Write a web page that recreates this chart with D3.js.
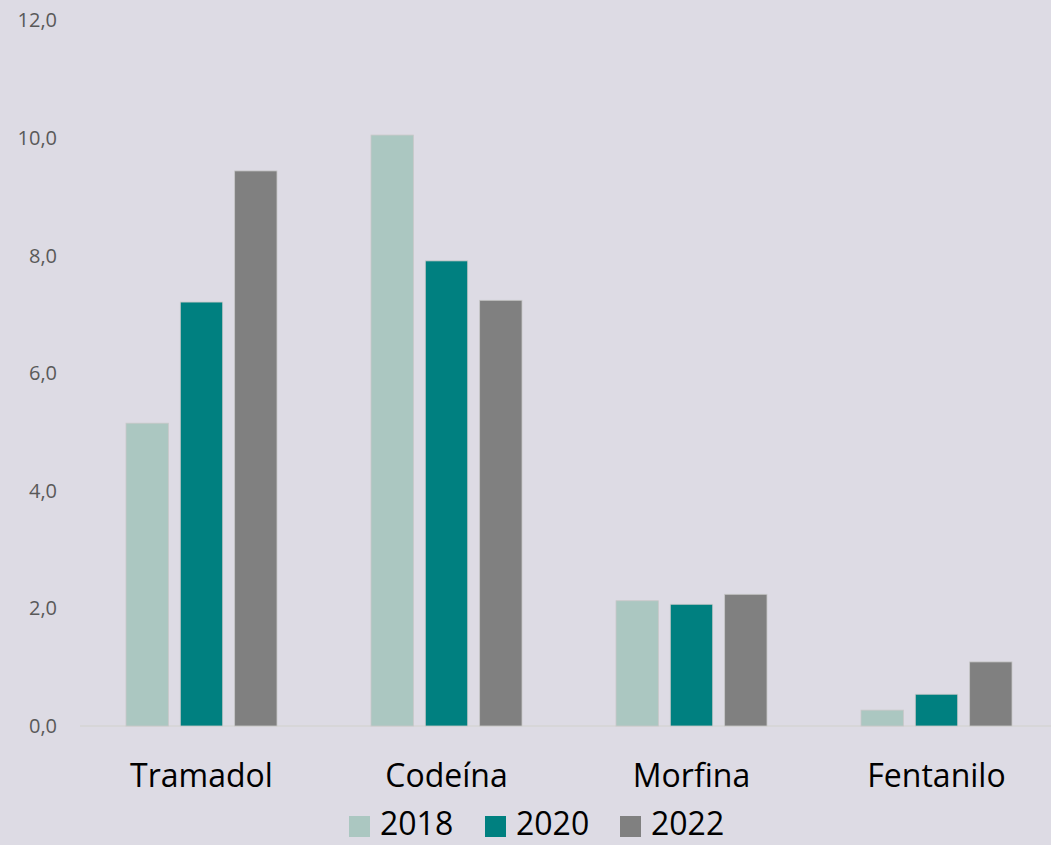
<!DOCTYPE html>
<html><head><meta charset="utf-8">
<script src="https://cdn.jsdelivr.net/npm/d3@7"></script>
<style>body{margin:0;background:#dddbe4;}svg{display:block;}</style>
</head><body>
<svg id="c" width="1051" height="845"></svg>
<script>
const categories = ["Tramadol", "Codeína", "Morfina", "Fentanilo"];
const years = ["2018", "2020", "2022"];
const v2018 = [5.15, 10.05, 2.13, 0.27];
const v2020 = [7.21, 7.91, 2.07, 0.54];
const v2022 = [9.44, 7.24, 2.24, 1.09];
const yTicks = [0, 2, 4, 6, 8, 10, 12];
const colors = ["#abc7c1", "#008080", "#808080"];

const series = [v2018, v2020, v2022];
const svg = d3.select("#c");
svg.append("rect").attr("width", 1051).attr("height", 845).attr("fill", "#dddbe4");

const font = "'Open Sans', 'Noto Sans', sans-serif";
const x0 = d3.scaleBand().domain(categories).range([79, 1059]).paddingInner(0).paddingOuter(0);
const x1 = d3.scaleBand().domain(years).range([47, 198]).paddingInner(0.22);
const y = d3.scaleLinear().domain([0, 12]).range([726, 20.4]);

// y axis labels
const yAxis = d3.axisLeft(y).tickValues(yTicks).tickSize(0).tickPadding(0)
  .tickFormat(d => d3.format(".1f")(d).replace(".", ","));
const ga = svg.append("g").attr("transform", "translate(57,0)").call(yAxis);
ga.select(".domain").remove();
ga.selectAll("text").attr("fill", "#595959").style("font-family", font).style("font-size", "20px");

// baseline
svg.append("line").attr("x1", 80).attr("x2", 1051).attr("y1", y(0)).attr("y2", y(0))
  .attr("stroke", "#d4d4d4").attr("stroke-width", 1.5);

// bars
const g = svg.append("g");
categories.forEach((c, i) => {
  years.forEach((yr, j) => {
    const val = series[j][i];
    g.append("rect")
      .attr("x", x0(c) + x1(yr))
      .attr("y", y(val))
      .attr("width", x1.bandwidth())
      .attr("height", y(0) - y(val))
      .attr("fill", colors[j])
      .attr("stroke", "#c8c8c8").attr("stroke-width", 0.8);
  });
});

// x axis labels
const xAxis = d3.axisBottom(x0).tickSize(0).tickPadding(0);
const gx = svg.append("g").attr("transform", "translate(0,787)").call(xAxis);
gx.select(".domain").remove();
gx.selectAll("text").attr("dy", 0).attr("fill", "#000").style("font-family", font).style("font-size", "32px");

// legend
const legX = [349, 485, 620];
const leg = svg.append("g");
years.forEach((yr, j) => {
  leg.append("rect").attr("x", legX[j]).attr("y", 816).attr("width", 21).attr("height", 21).attr("fill", colors[j]);
  leg.append("text").attr("x", legX[j] + 31).attr("y", 835).text(yr)
    .attr("fill", "#000").style("font-family", font).style("font-size", "32px");
});
</script>
</body></html>
